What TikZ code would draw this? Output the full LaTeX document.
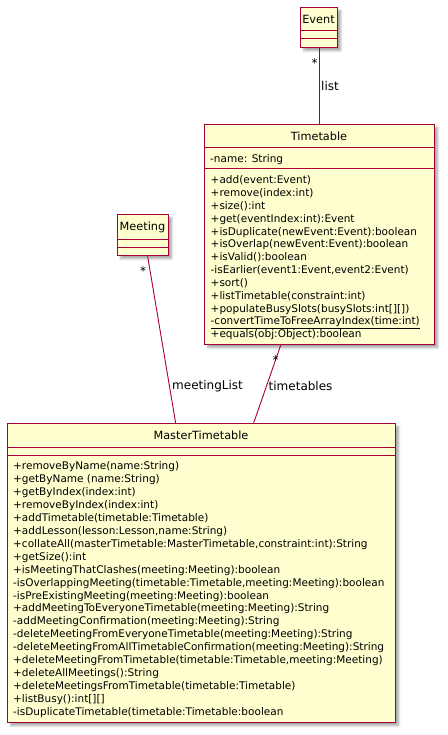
\documentclass[tikz,border=0pt]{standalone}
\usepackage{fontspec}
\setmainfont{DejaVu Sans}
\usetikzlibrary{shadows.blur,calc}
\definecolor{umlfill}{HTML}{FEFECE}
\definecolor{umlline}{HTML}{A80036}
\tikzset{
  x=1pt,y=-1pt,
  cls/.style={draw=umlline, fill=umlfill, line width=1.3pt, anchor=north west, inner sep=0pt,
    blur shadow={shadow xshift=3pt, shadow yshift=-3pt, shadow blur steps=6, shadow opacity=35}},
  sep/.style={draw=umlline, line width=1pt},
  member/.style={anchor=base west, inner sep=0pt, font=\fontsize{10.5}{12}\selectfont},
  ctitle/.style={inner sep=0pt, font=\fontsize{11.3}{13}\selectfont},
  assoc/.style={draw=umlline, line width=0.9pt},
  lbl/.style={inner sep=0pt, font=\fontsize{12}{14}\selectfont},
}
\begin{document}
\begin{tikzpicture}
\useasboundingbox (0,0) rectangle (447,735);
% Event
\node[cls, minimum width=37pt, minimum height=40pt] (event) at (300,7) {};
\draw[sep] (300,31) -- (337,31) (300,39) -- (337,39);
\node[ctitle] (eventname) at (318.5,19) {Event};
% Timetable
\node[cls, minimum width=230pt, minimum height=220pt] (tt) at (204,124) {};
\draw[sep] (204,148) -- (434,148) (204,169) -- (434,169);
\node[ctitle] (ttname) at (319,136) {Timetable};
\node[member] (ttattr) at (210,162.5) {-name: String};
\foreach \t [count=\i from 0] in {
  {+add(event:Event)},
  {+remove(index:int)},
  {+size():int},
  {+get(eventIndex:int):Event},
  {+isDuplicate(newEvent:Event):boolean},
  {+isOverlap(newEvent:Event):boolean},
  {+isValid():boolean},
  {-isEarlier(event1:Event,event2:Event)},
  {+sort()},
  {+listTimetable(constraint:int)},
  {+populateBusySlots(busySlots:int[][])},
  {\underline{-convertTimeToFreeArrayIndex(time:int)}},
  {+equals(obj:Object):boolean}}
  \node[member] (ttm\i) at (210.5,{183.7+12.83*\i}) {\t};
% Meeting
\node[cls, minimum width=51pt, minimum height=41pt] (meeting) at (117,214) {};
\draw[sep] (117,239) -- (168,239) (117,247) -- (168,247);
\node[ctitle] (meetingname) at (142.5,227) {Meeting};
% MasterTimetable
\node[cls, minimum width=388pt, minimum height=299pt] (master) at (7,423) {};
\draw[sep] (7,447) -- (395,447) (7,455) -- (395,455);
\node[ctitle] (mastername) at (201,435) {MasterTimetable};
\foreach \t [count=\i from 0] in {
  {+removeByName(name:String)},
  {+getByName (name:String)},
  {+getByIndex(index:int)},
  {+removeByIndex(index:int)},
  {+addTimetable(timetable:Timetable)},
  {+addLesson(lesson:Lesson,name:String)},
  {+collateAll(masterTimetable:MasterTimetable,constraint:int):String},
  {+getSize():int},
  {+isMeetingThatClashes(meeting:Meeting):boolean},
  {-isOverlappingMeeting(timetable:Timetable,meeting:Meeting):boolean},
  {-isPreExistingMeeting(meeting:Meeting):boolean},
  {+addMeetingToEveryoneTimetable(meeting:Meeting):String},
  {-addMeetingConfirmation(meeting:Meeting):String},
  {-deleteMeetingFromEveryoneTimetable(meeting:Meeting):String},
  {-deleteMeetingFromAllTimetableConfirmation(meeting:Meeting):String},
  {+deleteMeetingFromTimetable(timetable:Timetable,meeting:Meeting)},
  {+deleteAllMeetings():String},
  {+deleteMeetingsFromTimetable(timetable:Timetable)},
  {+listBusy():int[][]},
  {-isDuplicateTimetable(timetable:Timetable:boolean}}
  \node[member] (mm\i) at (13,{469.5+12.95*\i}) {\t};
% associations
\draw[assoc] (event.south) -- (event.south |- tt.north);
\draw[assoc] ($(meeting.south)+(4.5,0)$) -- ($(master.north)+(-26,0)$);
\draw[assoc] ($(tt.south)+(-39,0)$) -- ($(master.north)+(52,0)$);
% labels
\node[lbl] (l1star) at (314.5,63) {*};
\node[lbl, anchor=west] (l1) at (321,86) {list};
\node[lbl] (l2star) at (143,271) {*};
\node[lbl, anchor=west] (l2) at (172,386) {meetingList};
\node[lbl] (l3star) at (275.5,360) {*};
\node[lbl, anchor=west] (l3) at (268.5,386) {timetables};
\end{tikzpicture}
\end{document}
